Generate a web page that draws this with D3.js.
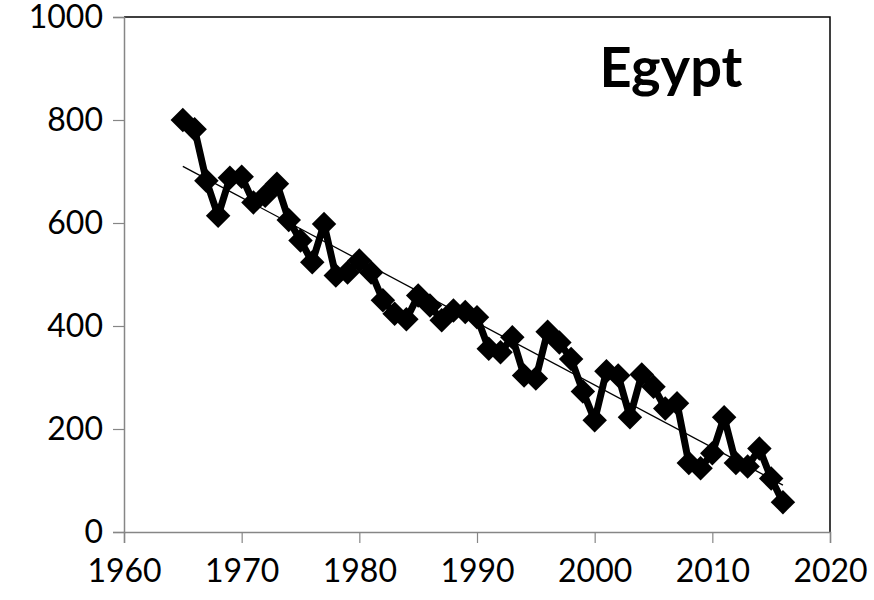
<!DOCTYPE html>
<html>
<head>
<meta charset="utf-8">
<script src="https://cdn.jsdelivr.net/npm/d3@7"></script>
<style>
  body { margin: 0; background: #ffffff; }
  svg { display: block; }
</style>
</head>
<body>
<div id="chart"></div>
<script>
// Egypt series, one value per year
const years = [1965, 1966, 1967, 1968, 1969, 1970, 1971, 1972, 1973, 1974,
  1975, 1976, 1977, 1978, 1979, 1980, 1981, 1982, 1983, 1984,
  1985, 1986, 1987, 1988, 1989, 1990, 1991, 1992, 1993, 1994,
  1995, 1996, 1997, 1998, 1999, 2000, 2001, 2002, 2003, 2004,
  2005, 2006, 2007, 2008, 2009, 2010, 2011, 2012, 2013, 2014,
  2015, 2016];
const values = [800, 782, 682, 614, 688, 690, 640, 653, 676, 606,
  566, 524, 598, 498, 504, 527, 504, 450, 424, 413,
  459, 440, 411, 430, 427, 417, 356, 349, 378, 304,
  298, 389, 368, 336, 273, 217, 312, 304, 223, 306,
  282, 240, 250, 134, 124, 153, 223, 134, 127, 162,
  104, 58];
const xTicks = [1960, 1970, 1980, 1990, 2000, 2010, 2020];
const yTicks = [0, 200, 400, 600, 800, 1000];
const title = "Egypt";

const width = 874;
const height = 600;
const plotLeft = 124, plotRight = 830, plotTop = 17, plotBottom = 532;
const axisGrey = "#868686";
const labelFont = "Lato, 'Open Sans', sans-serif";

const data = years.map((y, i) => ({ year: y, value: values[i] }));

const svg = d3.select("#chart").append("svg")
  .attr("width", width)
  .attr("height", height);

svg.append("rect")
  .attr("width", width)
  .attr("height", height)
  .attr("fill", "#ffffff");

const x = d3.scaleLinear().domain([1960, 2020]).range([plotLeft, plotRight]);
const y = d3.scaleLinear().domain([0, 1000]).range([plotBottom, plotTop]);

// plot area border (top & right in black)
svg.append("path")
  .attr("d", `M${plotLeft},${plotTop}H${plotRight}V${plotBottom}`)
  .attr("fill", "none")
  .attr("stroke", "#000000")
  .attr("stroke-width", 1.5);

// y axis
const yAxis = svg.append("g")
  .attr("transform", `translate(${plotLeft},0)`)
  .call(d3.axisLeft(y).tickValues(yTicks).tickSize(11).tickPadding(10).tickFormat(d3.format("d")));
yAxis.select(".domain").attr("stroke", axisGrey).attr("stroke-width", 1.5);
yAxis.selectAll(".tick line").attr("stroke", axisGrey).attr("stroke-width", 1.2);
yAxis.selectAll(".tick text")
  .attr("fill", "#000000")
  .attr("font-family", labelFont)
  .attr("font-size", "32px");

// x axis
const xAxis = svg.append("g")
  .attr("transform", `translate(0,${plotBottom})`)
  .call(d3.axisBottom(x).tickValues(xTicks).tickSize(11).tickPadding(16).tickFormat(d3.format("d")));
xAxis.select(".domain").attr("stroke", axisGrey).attr("stroke-width", 1.5);
xAxis.selectAll(".tick line").attr("stroke", axisGrey).attr("stroke-width", 1.2);
xAxis.selectAll(".tick text")
  .attr("fill", "#000000")
  .attr("font-family", labelFont)
  .attr("font-size", "32px");

// series line
const line = d3.line()
  .x(d => x(d.year))
  .y(d => y(d.value));

svg.append("path")
  .datum(data)
  .attr("d", line)
  .attr("fill", "none")
  .attr("stroke", "#000000")
  .attr("stroke-width", 7)
  .attr("stroke-linejoin", "round");

// diamond markers
svg.selectAll(".marker")
  .data(data)
  .enter()
  .append("path")
  .attr("class", "marker")
  .attr("d", d3.symbol().type(d3.symbolSquare).size(300))
  .attr("transform", d => `translate(${x(d.year)},${y(d.value)}) rotate(45)`)
  .attr("fill", "#000000");

// linear trend line (least squares fit of the series)
const mx = d3.mean(data, d => d.year);
const my = d3.mean(data, d => d.value);
const slope = d3.sum(data, d => (d.year - mx) * (d.value - my)) / d3.sum(data, d => (d.year - mx) ** 2);
const fit = yr => my + slope * (yr - mx);
const xExtent = d3.extent(years);

svg.append("line")
  .attr("x1", x(xExtent[0]))
  .attr("y1", y(fit(xExtent[0])))
  .attr("x2", x(xExtent[1]))
  .attr("y2", y(fit(xExtent[1])))
  .attr("stroke", "#000000")
  .attr("stroke-width", 1.3);

// title
svg.append("text")
  .attr("x", 671)
  .attr("y", 87)
  .attr("text-anchor", "middle")
  .attr("font-family", labelFont)
  .attr("font-weight", "bold")
  .attr("font-size", "56px")
  .attr("fill", "#000000")
  .text(title);
</script>
</body>
</html>
